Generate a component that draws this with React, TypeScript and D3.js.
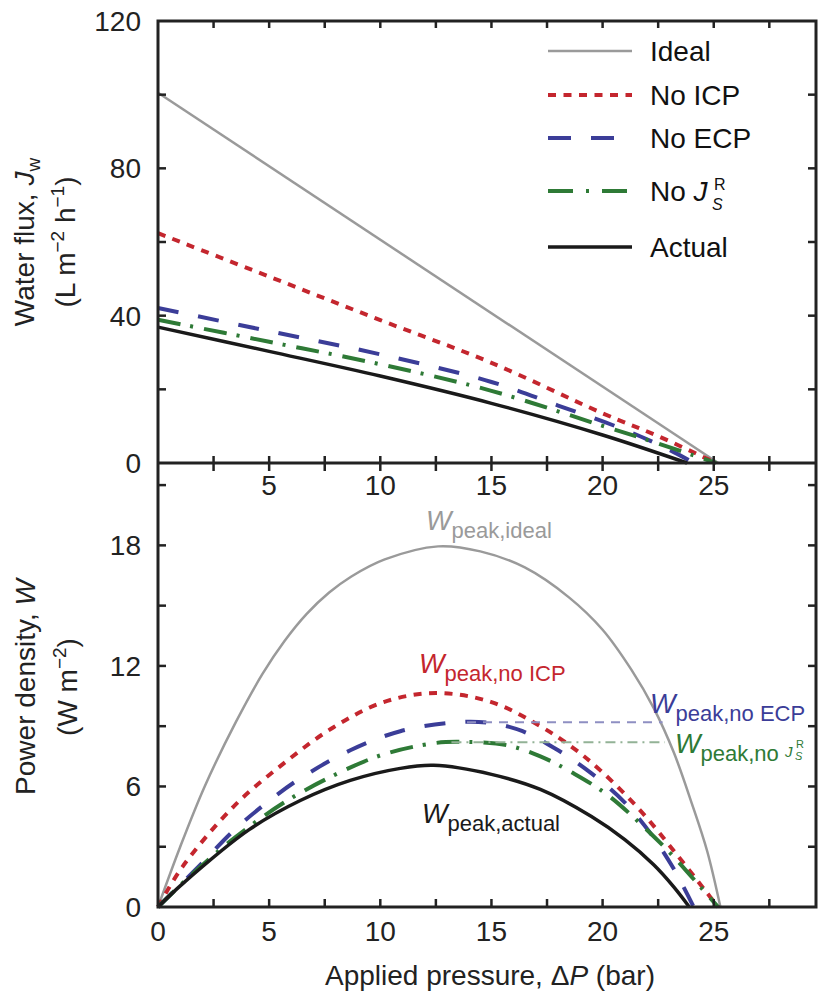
import React from 'react';
import * as d3 from 'd3';

// ---- data ----
// top panel: water flux (L m-2 h-1) vs applied pressure (bar)
const idealP = [0, 25.2];
const idealJ = [100.5, 0];
const noIcpP = [0, 5, 10, 15, 20, 22.5, 25.1];
const noIcpJ = [62.4, 50.6, 38.8, 27.2, 13.5, 7.3, 0];
const noEcpP = [0, 5, 10, 15, 18, 21, 23, 24.1];
const noEcpJ = [42.1, 35.8, 29.5, 22.0, 15.6, 9.0, 3.6, 0];
const noJsP = [0, 5, 10, 15, 20, 22.5, 25.1];
const noJsJ = [38.9, 32.9, 26.8, 19.6, 10.1, 5.3, 0];
const actualP = [0, 5, 10, 15, 20, 23.8];
const actualJ = [36.9, 30.3, 23.6, 16.2, 7.6, 0];

// bottom panel: power density (W m-2) vs applied pressure (bar)
const idealWP = [0, 1, 2.1, 3.5, 4.7, 5.7, 6.7, 7.7, 8.7, 10.2, 12.6, 14.5, 16.5, 18.5, 20, 21.3, 22.3, 23.2, 24.0, 24.7, 25.3];
const idealW = [0, 3.0, 6.0, 9.2, 11.6, 13.25, 14.6, 15.65, 16.45, 17.3, 17.95, 17.7, 16.9, 15.4, 13.8, 11.8, 9.9, 7.7, 5.2, 2.8, 0];
const noIcpWP = [0, 1.1, 3.4, 5.6, 7.9, 10.15, 12.5, 15, 17.2, 18.7, 19.9, 21.7, 23.2, 24.7, 25.2];
const noIcpW = [0, 2.0, 5.0, 7.1, 8.95, 10.2, 10.65, 10.2, 9.0, 7.9, 6.8, 4.8, 2.8, 0.7, 0];
const noEcpWP = [0, 1.9, 3.4, 4.9, 6.4, 8.65, 10.9, 13.5, 15, 16.4, 18, 19.5, 21, 22.2, 23.2, 24.1];
const noEcpW = [0, 2.1, 3.8, 5.2, 6.4, 7.8, 8.75, 9.2, 9.15, 8.75, 7.8, 6.65, 5.2, 3.6, 1.9, 0];
const noJsWP = [0, 1.5, 3.4, 5.6, 7.9, 10.15, 12.4, 13.5, 15.7, 17.2, 18.7, 20.2, 21.7, 23.2, 24.4, 25.2];
const noJsW = [0, 1.6, 3.4, 5.15, 6.55, 7.6, 8.15, 8.22, 8.05, 7.5, 6.65, 5.6, 4.15, 2.5, 1.0, 0];
const actualWP = [0, 1.1, 4.1, 6.4, 8.65, 10.9, 12.4, 15, 17.2, 19.5, 21, 22.3, 23.2, 23.9];
const actualW = [0, 1.15, 3.85, 5.3, 6.3, 6.9, 7.05, 6.6, 5.85, 4.5, 3.35, 2.1, 1.0, 0];

// peak guide lines
const ecpPeak = { from: 13.9, to: 22.7, w: 9.2 };
const jsPeak = { from: 13.2, to: 22.8, w: 8.2 };

const xTickLabels = [0, 5, 10, 15, 20, 25];
const xMinorTicks = [2.5, 5, 7.5, 10, 12.5, 15, 17.5, 20, 22.5, 25, 27.5];
const fluxTickLabels = [0, 40, 80, 120];
const fluxTicks = [20, 40, 60, 80, 100];
const powerTickLabels = [0, 6, 12, 18];
const powerTicks = [3, 6, 9, 12, 15, 18, 21];

const FONT = '"Liberation Sans", Arial, Helvetica, sans-serif';
const GRAY = '#9a9a9a';
const RED = '#c4262e';
const BLUE = '#3b3d98';
const GREEN = '#2e7a36';
const BLACK = '#1a1a1a';

const styles = {
  ideal: { stroke: GRAY, width: 2.5, dash: null },
  noIcp: { stroke: RED, width: 4, dash: '8,7.5' },
  noEcp: { stroke: BLUE, width: 4, dash: '21,20' },
  noJs: { stroke: GREEN, width: 4, dash: '23,10,3,11' },
  actual: { stroke: BLACK, width: 3.5, dash: null },
};

const zip = (xs: number[], ys: number[]) => xs.map((x, i) => [x, ys[i]] as [number, number]);

export default function App() {
  const x = d3.scaleLinear().domain([0, 29.6]).range([158, 816]);
  const yJ = d3.scaleLinear().domain([0, 120]).range([463, 21]);
  const yW = d3.scaleLinear().domain([0, 22.1]).range([907, 463]);

  const curve = d3.curveCatmullRom.alpha(0.5);
  const lineJ = d3.line<[number, number]>().x(d => x(d[0])).y(d => yJ(d[1])).curve(curve);
  const lineW = d3.line<[number, number]>().x(d => x(d[0])).y(d => yW(d[1])).curve(curve);

  const topSeries = [
    { key: 'ideal', d: zip(idealP, idealJ) },
    { key: 'noIcp', d: zip(noIcpP, noIcpJ) },
    { key: 'noEcp', d: zip(noEcpP, noEcpJ) },
    { key: 'noJs', d: zip(noJsP, noJsJ) },
    { key: 'actual', d: zip(actualP, actualJ) },
  ];
  const botSeries = [
    { key: 'ideal', d: zip(idealWP, idealW) },
    { key: 'noIcp', d: zip(noIcpWP, noIcpW) },
    { key: 'noEcp', d: zip(noEcpWP, noEcpW) },
    { key: 'noJs', d: zip(noJsWP, noJsW) },
    { key: 'actual', d: zip(actualWP, actualW) },
  ];

  const left = x(0), right = x.range()[1];
  const tickLen = 8;

  const legend = [
    { key: 'ideal', y: 51, label: <tspan>Ideal</tspan> },
    { key: 'noIcp', y: 95, label: <tspan>No ICP</tspan> },
    { key: 'noEcp', y: 138, label: <tspan>No ECP</tspan> },
    { key: 'noJs', y: 191, label: null },
    { key: 'actual', y: 247, label: <tspan>Actual</tspan> },
  ];

  return (
    <svg width={819} height={1000} style={{ position: 'absolute', left: 0, top: 0, background: '#fff' }}
      fontFamily={FONT}>
      <rect x={0} y={0} width={819} height={1000} fill="#fff" />

      {/* series */}
      {topSeries.map(s => {
        const st = (styles as any)[s.key];
        return <path key={'t' + s.key} d={lineJ(s.d) || ''} fill="none" stroke={st.stroke}
          strokeWidth={st.width} strokeDasharray={st.dash || undefined} />;
      })}
      {botSeries.map(s => {
        const st = (styles as any)[s.key];
        return <path key={'b' + s.key} d={lineW(s.d) || ''} fill="none" stroke={st.stroke}
          strokeWidth={st.width} strokeDasharray={st.dash || undefined} />;
      })}

      {/* peak guides */}
      <line x1={x(ecpPeak.from)} x2={x(ecpPeak.to)} y1={yW(ecpPeak.w)} y2={yW(ecpPeak.w)}
        stroke="#8e8fc2" strokeWidth={2} strokeDasharray="9,7" />
      <line x1={x(jsPeak.from)} x2={x(jsPeak.to)} y1={yW(jsPeak.w)} y2={yW(jsPeak.w)}
        stroke="#93b296" strokeWidth={2} strokeDasharray="10,5,2,5" />

      {/* frames */}
      <rect x={left} y={yJ(120)} width={right - left} height={yW(0) - yJ(120)} fill="none" stroke="#222" strokeWidth={3} />
      <line x1={left} x2={right} y1={yJ(0)} y2={yJ(0)} stroke="#222" strokeWidth={3} />

      {/* x ticks */}
      {xMinorTicks.map(t => (
        <g key={'xt' + t} stroke="#222" strokeWidth={2.5}>
          <line x1={x(t)} x2={x(t)} y1={yJ(120)} y2={yJ(120) + 7} />
          <line x1={x(t)} x2={x(t)} y1={yJ(0) - 7} y2={yJ(0) + 8} />
          <line x1={x(t)} x2={x(t)} y1={yW(0)} y2={yW(0) - tickLen} />
        </g>
      ))}
      {/* y ticks */}
      {fluxTicks.map(t => (
        <g key={'yj' + t} stroke="#222" strokeWidth={2.5}>
          <line x1={left} x2={left + tickLen} y1={yJ(t)} y2={yJ(t)} />
          <line x1={right} x2={right - tickLen} y1={yJ(t)} y2={yJ(t)} />
        </g>
      ))}
      {powerTicks.map(t => (
        <g key={'yw' + t} stroke="#222" strokeWidth={2.5}>
          <line x1={left} x2={left + tickLen} y1={yW(t)} y2={yW(t)} />
          <line x1={right} x2={right - tickLen} y1={yW(t)} y2={yW(t)} />
        </g>
      ))}

      {/* tick labels */}
      <g fontSize={28} fill="#222">
        {fluxTickLabels.map(t => (
          <text key={'lj' + t} x={141} y={yJ(t) + 10} textAnchor="end">{t}</text>
        ))}
        {powerTickLabels.map(t => (
          <text key={'lw' + t} x={141} y={yW(t) + 10} textAnchor="end">{t}</text>
        ))}
        {xTickLabels.filter(t => t > 0).map(t => (
          <text key={'lxt' + t} x={x(t)} y={495} textAnchor="middle">{t}</text>
        ))}
        {xTickLabels.map(t => (
          <text key={'lxb' + t} x={x(t)} y={941} textAnchor="middle">{t}</text>
        ))}
      </g>

      {/* axis titles */}
      <g fontSize={28} fill="#222">
        <text transform={`translate(34,${(yJ(0) + yJ(120)) / 2}) rotate(-90)`} textAnchor="middle">
          Water flux, <tspan fontStyle="italic">J</tspan><tspan fontSize={19} dy={6}>w</tspan>
        </text>
        <text transform={`translate(75,${(yJ(0) + yJ(120)) / 2}) rotate(-90)`} textAnchor="middle">
          (L m<tspan fontSize={19} dy={-11}>−2</tspan><tspan dy={11}> h</tspan><tspan fontSize={19} dy={-11}>−1</tspan><tspan dy={11}>)</tspan>
        </text>
        <text transform={`translate(35,${(yW(0) + yW(22.1)) / 2 + 2}) rotate(-90)`} textAnchor="middle">
          Power density, <tspan fontStyle="italic">W</tspan>
        </text>
        <text transform={`translate(77,${(yW(0) + yW(22.1)) / 2 + 2}) rotate(-90)`} textAnchor="middle">
          (W m<tspan fontSize={19} dy={-11}>−2</tspan><tspan dy={11}>)</tspan>
        </text>
        <text x={490} y={985} textAnchor="middle">
          Applied pressure, Δ<tspan fontStyle="italic">P</tspan> (bar)
        </text>
      </g>

      {/* legend */}
      {legend.map(l => {
        const st = (styles as any)[l.key];
        return (
          <g key={'lg' + l.key}>
            <line x1={548} x2={632} y1={l.y} y2={l.y} stroke={st.stroke} strokeWidth={st.width}
              strokeDasharray={l.key === 'noJs' ? '25,13,3,13' : l.key === 'noEcp' ? '23,20' : st.dash || undefined} />
            {l.label && <text x={650} y={l.y + 10} fontSize={28} fill="#111">{l.label}</text>}
          </g>
        );
      })}
      <text x={650} y={201} fontSize={28} fill="#111">No <tspan fontStyle="italic">J</tspan></text>
      <text x={714} y={190} fontSize={16} fill="#111">R</text>
      <text x={712} y={210} fontSize={16} fill="#111" fontStyle="italic">S</text>

      {/* peak annotations */}
      <text x={426} y={530} fill={GRAY}>
        <tspan fontSize={27} fontStyle="italic">W</tspan><tspan fontSize={22} dy={8}>peak,ideal</tspan>
      </text>
      <text x={419} y={673} fill={RED}>
        <tspan fontSize={27} fontStyle="italic">W</tspan><tspan fontSize={22} dy={8}>peak,no ICP</tspan>
      </text>
      <text x={650} y={713} fill={BLUE}>
        <tspan fontSize={27} fontStyle="italic">W</tspan><tspan fontSize={22} dy={8}>peak,no ECP</tspan>
      </text>
      <text x={675} y={753} fill={GREEN}>
        <tspan fontSize={27} fontStyle="italic">W</tspan><tspan fontSize={22} dy={8}>peak,no </tspan><tspan fontSize={15} fontStyle="italic" dy={-4}>J</tspan>
      </text>
      <text x={796} y={748} fontSize={11} fill={GREEN}>R</text>
      <text x={795} y={760} fontSize={11} fill={GREEN} fontStyle="italic">S</text>
      <text x={422} y={823} fill={BLACK}>
        <tspan fontSize={27} fontStyle="italic">W</tspan><tspan fontSize={22} dy={8}>peak,actual</tspan>
      </text>
    </svg>
  );
}
